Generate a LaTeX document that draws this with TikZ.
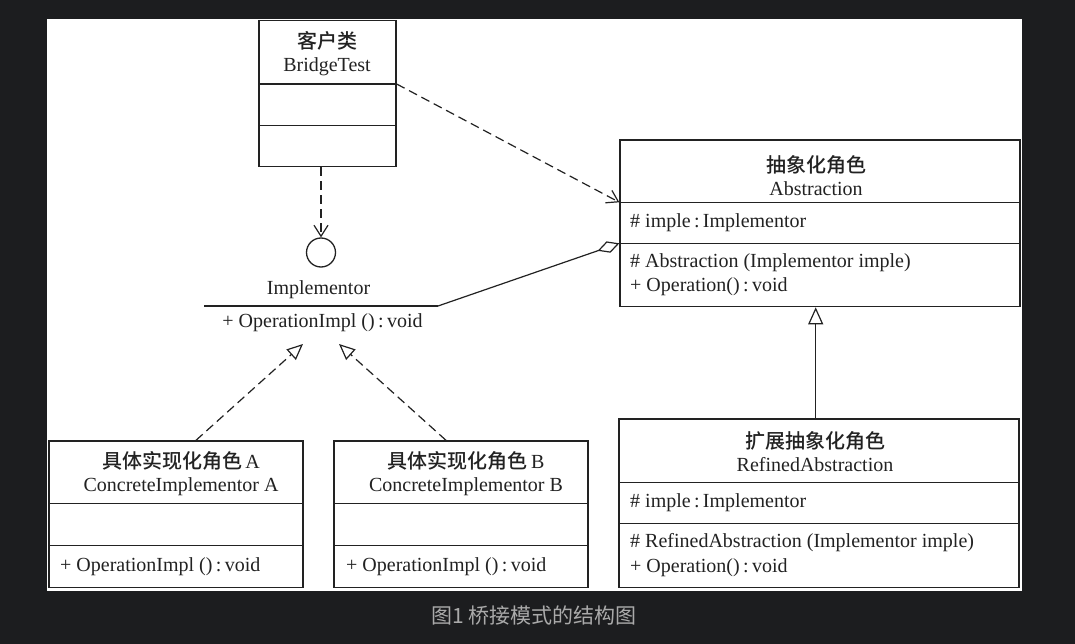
\documentclass[tikz,border=0pt]{standalone}
\usepackage{fontspec}
\setmainfont{Liberation Serif}
\newfontfamily\cjk{Noto Sans CJK SC}
\newfontfamily\cjkhead{Noto Sans CJK SC Medium}
\usetikzlibrary{arrows.meta,calc}
\definecolor{pagebg}{RGB}{28,29,31}
\definecolor{ink}{RGB}{34,34,34}
\definecolor{capgray}{RGB}{170,170,170}

\begin{document}
\begin{tikzpicture}[x=1pt, y=-1pt,
	classbox/.style={draw=ink, line width=1.3pt, inner sep=0pt},
	divider/.style={draw=ink, line width=1.3pt},
	title/.style={align=center, text=ink, font=\fontsize{20}{23}\selectfont, inner sep=0pt},
	member/.style={anchor=west, text=ink, font=\fontsize{20}{24}\selectfont, inner sep=0pt, text height=14pt, text depth=5pt},
	link/.style={draw=ink, line width=1.2pt},
	dep/.style={link, dash pattern=on 9pt off 5pt, -{Straight Barb[length=11pt,width=14pt]}},
	realize/.style={link, dash pattern=on 9pt off 5pt, -{Triangle[open,length=16pt,width=14pt]}},
	inherit/.style={link, -{Triangle[open,length=17pt,width=15pt]}},
	aggr/.style={link, -{Diamond[open,length=23pt,width=12pt]}}]
			%%%%% START %%%%%
			
			\useasboundingbox (0,0) rectangle (1075,644);
			\fill[pagebg] (0,0) rectangle (1075,644);
			\fill[white] (47,19) rectangle (1022,591);
			
			% client
			\node[classbox, minimum width=137pt, minimum height=146pt] (bt) at (327.5,93.7) {};
			\draw[divider] (bt.west |- 0,84) -- (bt.east |- 0,84);
			\draw[divider] (bt.west |- 0,125.7) -- (bt.east |- 0,125.7);
			\node[title] (btname) at (327,54) {{\cjkhead 客户类}\\BridgeTest};
			
			% interface
			\node[circle, draw=ink, line width=1.3pt, minimum size=29pt, inner sep=0pt] (iface) at (321,252.5) {};
			\node[title] (implname) at (318.5,290) {Implementor};
			\coordinate (ilL) at (204,306);
			\coordinate (ilR) at (438,306);
			\draw[link] (ilL) -- (ilR);
			\node[member, anchor=center] (implop) at (322.5,323) {+ OperationImpl ()\,:\,void};
			
			% abstraction
			\node[classbox, minimum width=400pt, minimum height=166.7pt] (abs) at (820,223.3) {};
			\draw[divider] (abs.west |- 0,202.3) -- (abs.east |- 0,202.3);
			\draw[divider] (abs.west |- 0,243.3) -- (abs.east |- 0,243.3);
			\node[title] (absname) at (816,175.5) {{\cjkhead 抽象化角色}\\Abstraction};
			\node[member] (absattr) at (630,222.7) {\# imple\,:\,Implementor};
			\node[member] (absctor) at (630,263) {\# Abstraction (Implementor imple)};
			\node[member] (absop) at (630,287) {+ Operation()\,:\,void};
			
			% refined abstraction
			\node[classbox, minimum width=400pt, minimum height=168.7pt] (ref) at (819,503.3) {};
			\draw[divider] (ref.west |- 0,482.7) -- (ref.east |- 0,482.7);
			\draw[divider] (ref.west |- 0,523.3) -- (ref.east |- 0,523.3);
			\node[title] (refname) at (815,451.7) {{\cjkhead 扩展抽象化角色}\\RefinedAbstraction};
			\node[member] (refattr) at (630,502.7) {\# imple\,:\,Implementor};
			\node[member] (refctor) at (630,542.7) {\# RefinedAbstraction (Implementor imple)};
			\node[member] (refop) at (630,567.7) {+ Operation()\,:\,void};
			
			% concrete implementors
			\node[classbox, minimum width=254pt, minimum height=146.7pt] (ca) at (176,514.3) {};
			\draw[divider] (ca.west |- 0,503.3) -- (ca.east |- 0,503.3);
			\draw[divider] (ca.west |- 0,545.7) -- (ca.east |- 0,545.7);
			\node[title] (caname) at (181,473.9) {{\cjkhead 具体实现化角色}\,A\\ConcreteImplementor A};
			\node[member] (caop) at (60,566.7) {+ OperationImpl ()\,:\,void};
			
			\node[classbox, minimum width=254pt, minimum height=146.7pt] (cb) at (461,514.3) {};
			\draw[divider] (cb.west |- 0,503.3) -- (cb.east |- 0,503.3);
			\draw[divider] (cb.west |- 0,545.7) -- (cb.east |- 0,545.7);
			\node[title] (cbname) at (466,473.9) {{\cjkhead 具体实现化角色}\,B\\ConcreteImplementor B};
			\node[member] (cbop) at (346,566.7) {+ OperationImpl ()\,:\,void};
			
			% relations
			\draw[dep] ([xshift=-6.5pt]bt.south) -- (iface.north);
			\draw[dep] (bt.east |- 0,84) -- (abs.west |- 0,202.3);
			\draw[aggr] (ilR) -- (abs.west |- 0,243.3);
			\coordinate (tipA) at (303,344);
			\coordinate (tipB) at (339,344);
			\draw[realize] ([xshift=20pt]ca.north) -- (tipA);
			\draw[realize] ([xshift=-15pt]cb.north) -- (tipB);
			\draw[inherit] ([xshift=-3.3pt]ref.north) -- ([xshift=-4.3pt]abs.south);
			
			\node[text=capgray, font=\cjk\fontsize{21}{21}\selectfont] (caption) at (534,616) {图1 桥接模式的结构图};
			
			%%%%% END %%%%%
\end{tikzpicture}
\end{document}
